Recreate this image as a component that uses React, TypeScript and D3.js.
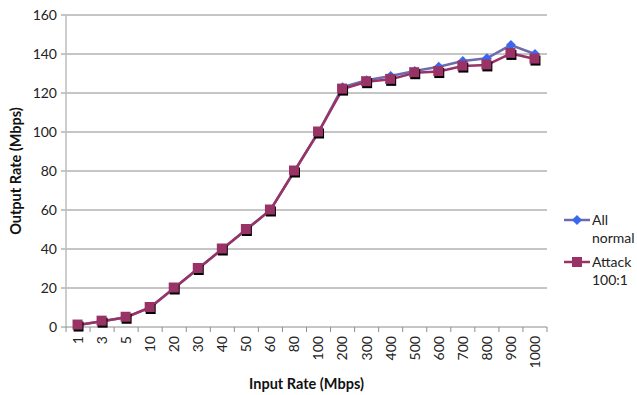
import React from "react";
import * as d3 from "d3";

const categories = ["1","3","5","10","20","30","40","50","60","80","100","200","300","400","500","600","700","800","900","1000"];
const allNormal = [1,3,5,10,20,30,40,50,60,80,100,123,126.5,128.7,131.3,133.5,136.4,137.8,144.6,140];
const attack = [1,3,5,10,20,30,40,50,60,80,100,122,125.8,127,130.4,131,133.8,134.4,140.3,137.4];
const yTicks = [0,20,40,60,80,100,120,140,160];
const seriesNames = [["All", "normal"], ["Attack", "100:1"]];

const W = 637, H = 395;
const m = { left: 66, right: 547, top: 15, bottom: 327 };
const FONT = "Lato, 'Open Sans', sans-serif";

export default function App() {
  const x = d3.scaleBand().domain(categories).range([m.left, m.right]);
  const y = d3.scaleLinear().domain([0, 160]).range([m.bottom, m.top]);
  const cx = (c: string) => (x(c) as number) + x.bandwidth() / 2;
  const line = d3.line<number>().x((_, i) => cx(categories[i])).y((d) => y(d));
  const normalLine = "#6B6BAE";
  const normalMarker = "#3A66F0";
  const attackColor = "#993366";
  return (
    <svg width={W} height={H} style={{ position: "absolute", left: 0, top: 0 }}>
      <rect width={W} height={H} fill="#fff" />
      {yTicks.map((t) => (
        <g key={t}>
          {t > 0 && <line x1={m.left} x2={m.right} y1={y(t)} y2={y(t)} stroke="#8C8C8C" strokeWidth={1} />}
          <line x1={m.left - 5} x2={m.left} y1={y(t)} y2={y(t)} stroke="#8C8C8C" />
          <text x={m.left - 9} y={y(t)} dy="0.35em" textAnchor="end" fontFamily={FONT} fontSize={14} fill="#222">{t}</text>
        </g>
      ))}
      <line x1={m.left} x2={m.left} y1={m.top} y2={m.bottom} stroke="#BDBDBD" strokeWidth={1.5} />
      <line x1={m.left} x2={m.right} y1={m.bottom} y2={m.bottom} stroke="#8C8C8C" />
      {categories.map((c, i) => (
        <line key={"t" + i} x1={(x(c) as number) + x.bandwidth()} x2={(x(c) as number) + x.bandwidth()} y1={m.bottom} y2={m.bottom + 5} stroke="#8C8C8C" />
      ))}
      <line x1={m.left} x2={m.left} y1={m.bottom} y2={m.bottom + 5} stroke="#8C8C8C" />
      {categories.map((c) => (
        <text key={"l" + c} transform={`translate(${cx(c)},${m.bottom + 9}) rotate(-90)`} dy="0.35em" textAnchor="end" fontFamily={FONT} fontSize={14} fill="#222">{c}</text>
      ))}
      <text transform={`translate(21,${(m.top + m.bottom) / 2}) rotate(-90)`} textAnchor="middle" fontFamily={FONT} fontSize={14.5} fontWeight="bold" fill="#111">Output Rate (Mbps)</text>
      <text x={(m.left + m.right) / 2} y={389} textAnchor="middle" fontFamily={FONT} fontSize={14.5} fontWeight="bold" fill="#111">Input Rate (Mbps)</text>

      <path d={line(allNormal) || ""} fill="none" stroke={normalLine} strokeWidth={2.5} />
      {allNormal.map((v, i) => {
        const px = cx(categories[i]), py = y(v);
        return <path key={"n" + i} d={`M${px},${py - 5}L${px + 5},${py}L${px},${py + 5}L${px - 5},${py}Z`} fill={normalMarker} />;
      })}
      <path d={line(attack) || ""} fill="none" stroke={attackColor} strokeWidth={2.5} />
      {attack.map((v, i) => {
        const px = cx(categories[i]), py = y(v);
        return (
          <g key={"a" + i}>
            <rect x={px - 4.5} y={py - 3.5} width={10} height={10} fill="#000" />
            <rect x={px - 5.5} y={py - 5.5} width={10} height={10} fill={attackColor} />
          </g>
        );
      })}

      <g>
        <line x1={564} x2={590} y1={220} y2={220} stroke={normalLine} strokeWidth={2.5} />
        <path d={`M577,215L582,220L577,225L572,220Z`} fill={normalMarker} />
        <text x={592} y={220} dy="0.35em" fontFamily={FONT} fontSize={14} fill="#222">{seriesNames[0][0]}</text>
        <text x={592} y={238} dy="0.35em" fontFamily={FONT} fontSize={14} fill="#222">{seriesNames[0][1]}</text>
        <line x1={564} x2={590} y1={262} y2={262} stroke={attackColor} strokeWidth={2.5} />
        <rect x={572} y={257} width={10} height={10} fill={attackColor} />
        <text x={592} y={262} dy="0.35em" fontFamily={FONT} fontSize={14} fill="#222">{seriesNames[1][0]}</text>
        <text x={592} y={280} dy="0.35em" fontFamily={FONT} fontSize={14} fill="#222">{seriesNames[1][1]}</text>
      </g>
    </svg>
  );
}
